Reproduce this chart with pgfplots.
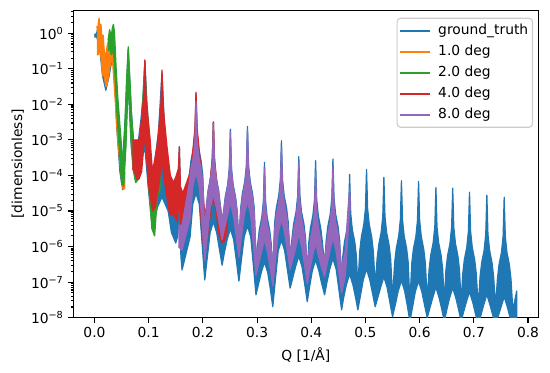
\documentclass[border=0pt]{standalone}
\usepackage{fontspec}
\setmainfont{DejaVu Sans}
\usepackage{pgfplots}
\pgfplotsset{compat=1.18}
\definecolor{tabblue}{HTML}{1F77B4}
\definecolor{taborange}{HTML}{FF7F0E}
\definecolor{tabgreen}{HTML}{2CA02C}
\definecolor{tabred}{HTML}{D62728}
\definecolor{tabpurple}{HTML}{9467BD}
\begin{document}
\fontsize{10}{12}\selectfont
\begin{tikzpicture}
\useasboundingbox (-52.8bp,-39.1bp) rectangle (343.2bp,228.74bp);
\begin{axis}[
  at={(0,0)}, anchor=south west,
  scale only axis, width=334.8bp, height=221.5bp,
  ymode=log, xmin=-0.039, xmax=0.819, ymin=1e-8, ymax=4.5,
  xtick={0,0.1,0.2,0.3,0.4,0.5,0.6,0.7,0.8},
  xticklabels={0.0,0.1,0.2,0.3,0.4,0.5,0.6,0.7,0.8},
  ytick={1e-8,1e-7,1e-6,1e-5,1e-4,1e-3,1e-2,1e-1,1},
  yticklabels={10\textsuperscript{−8},10\textsuperscript{−7},10\textsuperscript{−6},10\textsuperscript{−5},10\textsuperscript{−4},10\textsuperscript{−3},10\textsuperscript{−2},10\textsuperscript{−1},10\textsuperscript{0}},
  minor ytick={2e-8,3e-8,4e-8,5e-8,6e-8,7e-8,8e-8,9e-8,
    2e-7,3e-7,4e-7,5e-7,6e-7,7e-7,8e-7,9e-7,
    2e-6,3e-6,4e-6,5e-6,6e-6,7e-6,8e-6,9e-6,
    2e-5,3e-5,4e-5,5e-5,6e-5,7e-5,8e-5,9e-5,
    2e-4,3e-4,4e-4,5e-4,6e-4,7e-4,8e-4,9e-4,
    2e-3,3e-3,4e-3,5e-3,6e-3,7e-3,8e-3,9e-3,
    2e-2,3e-2,4e-2,5e-2,6e-2,7e-2,8e-2,9e-2,
    0.2,0.3,0.4,0.5,0.6,0.7,0.8,0.9,2,3,4},
  xminorticks=false,
  tick align=outside, xtick pos=bottom, ytick pos=left,
  major tick length=3.5bp, minor tick length=2bp,
  tick style={line width=0.8bp, black},
  axis line style={line width=0.8bp},
  tick label style={font=\fontsize{10}{12}\selectfont},
  xlabel={Q [1/Å]}, ylabel={[dimensionless]},
  every axis x label/.style={at={(axis description cs:0.5,-0.1219)}, anchor=center, font=\fontsize{10}{12}\selectfont},
  every axis y label/.style={at={(axis description cs:-0.1195,0.5)}, rotate=90, anchor=center, font=\fontsize{10}{12}\selectfont},
  legend style={at={(1,1)}, anchor=north east, xshift=-3.8bp, yshift=-5.5bp,
    draw=black!20, line width=0.8bp, rounded corners=2.5bp, fill=white, fill opacity=0.8, text opacity=1,
    font=\fontsize{10}{12}\selectfont, row sep=0pt, column sep=3.4bp, inner xsep=1.1bp, inner ysep=1.5bp,
    nodes={inner ysep=2.55bp, inner xsep=2bp, text height=7.5bp, text depth=2.5bp}},
  legend cell align=left,
  legend image code/.code={\draw[#1, line width=1.5bp] (0bp,0bp) -- (21.6bp,0bp);},
]
% ground truth: band (upper envelope left to right, lower envelope right to left)
\addplot[forget plot, fill=tabblue, draw=tabblue, line width=0.9bp, line join=round] coordinates {
(0.000,0.89)(0.004,1.0)(0.0087,2.0)(0.015,0.32)(0.021,6.3e-2)(0.027,0.25)(0.035,1.41)(0.041,2.5e-2)(0.047,1e-3)(0.052,2.5e-4)(0.057,5e-3)(0.0623,0.355)(0.068,6.3e-3)(0.073,6.3e-4)(0.078,4.0e-4)(0.086,4.0e-3)(0.090,2.0e-2)(0.093,0.158)(0.097,1.0e-2)(0.101,1.26e-3)(0.107,2.5e-5)(0.112,3.16e-4)(0.118,1.58e-3)(0.1246,7.9e-2)(0.130,1.26e-3)(0.136,1.58e-4)(0.142,2.5e-5)(0.1486,1.26e-5)(0.1536,4.0e-5)(0.1566,6.3e-4)(0.1596,1e-5)(0.1616,2.5e-6)
(0.1749,1e-4)(0.1779,2.5e-4)(0.1824,5.6e-4)(0.1854,1.58e-3)(0.1874,2.0e-2)(0.1894,1.58e-3)(0.1924,5.6e-4)(0.1969,2.5e-4)(0.1999,1e-4)(0.2035,1.26e-6)
(0.2069,1.58e-5)(0.2099,4.0e-5)(0.2144,8.9e-5)(0.2174,2.5e-4)(0.2194,3.16e-3)(0.2214,2.5e-4)(0.2244,8.9e-5)(0.2289,4.0e-5)(0.2319,1.58e-5)(0.2355,3.55e-6)
(0.2383,1e-5)(0.2413,2.5e-5)(0.2458,5.6e-5)(0.2488,1.58e-4)(0.2508,2.0e-3)(0.2528,1.58e-4)(0.2558,5.6e-5)(0.2603,2.5e-5)(0.2633,1e-5)(0.2665,1.26e-6)
(0.2698,1.2e-5)(0.2728,3.0e-5)(0.2773,6.8e-5)(0.2803,1.9e-4)(0.2823,2.4e-3)(0.2843,1.9e-4)(0.2873,6.8e-5)(0.2918,3.0e-5)(0.2948,1.2e-5)(0.298,4.0e-7)
(0.3012,1.17e-6)(0.3042,2.95e-6)(0.3087,6.6e-6)(0.3117,1.86e-5)(0.3137,2.34e-4)(0.3157,1.86e-5)(0.3187,6.6e-6)(0.3232,2.95e-6)(0.3262,1.17e-6)(0.329,1.58e-7)
(0.3325,4.8e-6)(0.3355,1.2e-5)(0.340,2.7e-5)(0.343,7.6e-5)(0.345,9.5e-4)(0.347,7.6e-5)(0.350,2.7e-5)(0.3545,1.2e-5)(0.3575,4.8e-6)(0.361,4.5e-7)
(0.3645,1.7e-6)(0.3675,4.3e-6)(0.372,9.5e-6)(0.375,2.7e-5)(0.377,3.4e-4)(0.379,2.7e-5)(0.382,9.5e-6)(0.3865,4.3e-6)(0.3895,1.7e-6)(0.3926,1.78e-7)
(0.3955,1.32e-6)(0.3985,3.3e-6)(0.403,7.4e-6)(0.406,2.1e-5)(0.408,2.63e-4)(0.410,2.1e-5)(0.413,7.4e-6)(0.4175,3.3e-6)(0.4205,1.32e-6)(0.4246,2.8e-7)
(0.4275,1.45e-6)(0.4305,3.6e-6)(0.435,8.1e-6)(0.438,2.3e-5)(0.44,2.9e-4)(0.442,2.3e-5)(0.445,8.1e-6)(0.4495,3.6e-6)(0.4525,1.45e-6)(0.456,7.9e-8)
(0.4583,5.4e-7)(0.4613,1.35e-6)(0.4658,3.0e-6)(0.4688,8.5e-6)(0.4708,1.07e-4)(0.4728,8.5e-6)(0.4758,3.0e-6)(0.4803,1.35e-6)(0.4833,5.4e-7)(0.486,7.1e-8)
(0.4895,7.4e-7)(0.4925,1.86e-6)(0.497,4.2e-6)(0.500,1.17e-5)(0.502,1.48e-4)(0.504,1.17e-5)(0.507,4.2e-6)(0.5115,1.86e-6)(0.5145,7.4e-7)(0.518,7.9e-8)
(0.5215,4.5e-7)(0.5245,1.12e-6)(0.529,2.5e-6)(0.532,7.1e-6)(0.534,8.9e-5)(0.536,7.1e-6)(0.539,2.5e-6)(0.5435,1.12e-6)(0.5465,4.5e-7)(0.550,3.55e-8)
(0.5539,3.55e-7)(0.5569,8.9e-7)(0.5614,2.0e-6)(0.5644,5.6e-6)(0.5664,7.1e-5)(0.5684,5.6e-6)(0.5714,2.0e-6)(0.5759,8.9e-7)(0.5789,3.55e-7)(0.582,2.5e-8)
(0.5855,3.4e-7)(0.5885,8.5e-7)(0.593,1.9e-6)(0.596,5.4e-6)(0.598,6.8e-5)(0.600,5.4e-6)(0.603,1.9e-6)(0.6075,8.5e-7)(0.6105,3.4e-7)(0.614,3.16e-8)
(0.6175,2.3e-7)(0.6205,5.75e-7)(0.625,1.29e-6)(0.628,3.6e-6)(0.63,4.6e-5)(0.632,3.6e-6)(0.635,1.29e-6)(0.6395,5.75e-7)(0.6425,2.3e-7)(0.6455,2.5e-8)
(0.6485,2.2e-7)(0.6515,5.5e-7)(0.656,1.23e-6)(0.659,3.5e-6)(0.661,4.4e-5)(0.663,3.5e-6)(0.666,1.23e-6)(0.6705,5.5e-7)(0.6735,2.2e-7)(0.6765,2.5e-8)
(0.6795,1.7e-7)(0.6825,4.3e-7)(0.687,9.5e-7)(0.690,2.7e-6)(0.692,3.4e-5)(0.694,2.7e-6)(0.697,9.5e-7)(0.7015,4.3e-7)(0.7045,1.7e-7)(0.708,2.0e-8)
(0.7115,1.41e-7)(0.7145,3.55e-7)(0.719,7.9e-7)(0.722,2.24e-6)(0.724,2.8e-5)(0.726,2.24e-6)(0.729,7.9e-7)(0.7335,3.55e-7)(0.7365,1.41e-7)(0.740,2.0e-8)
(0.7435,1.23e-7)(0.7465,3.1e-7)(0.751,6.9e-7)(0.754,1.95e-6)(0.756,2.45e-5)(0.758,1.95e-6)(0.761,6.9e-7)(0.7655,3.1e-7)(0.7685,1.23e-7)(0.772,1.58e-8)(0.779,5.6e-8)
(0.779,1e-8)(0.772,5e-9)
(0.767,1e-8)(0.762,1.95e-8)(0.756,3.9e-8)(0.750,1.95e-8)(0.745,1.1e-8)(0.740,6.3e-9)
(0.735,1.17e-8)(0.730,2.24e-8)(0.724,4.5e-8)(0.718,2.24e-8)(0.713,1.17e-8)(0.708,6.3e-9)
(0.703,1.3e-8)(0.698,2.7e-8)(0.692,5.4e-8)(0.686,2.7e-8)(0.681,1.45e-8)(0.6765,7.9e-9)
(0.672,1.66e-8)(0.667,3.5e-8)(0.661,6.9e-8)(0.655,3.5e-8)(0.650,1.66e-8)(0.6455,7.9e-9)
(0.641,1.7e-8)(0.636,3.6e-8)(0.63,7.2e-8)(0.624,3.6e-8)(0.619,1.9e-8)(0.614,1e-8)
(0.609,2.3e-8)(0.604,5.4e-8)(0.598,1.07e-7)(0.592,5.4e-8)(0.587,2.04e-8)(0.582,7.9e-9)
(0.5774,2.1e-8)(0.5724,5.6e-8)(0.5664,1.12e-7)(0.5604,5.6e-8)(0.5554,2.45e-8)(0.550,1.07e-8)
(0.545,2.75e-8)(0.540,7.1e-8)(0.534,1.41e-7)(0.528,7.1e-8)(0.523,3.8e-8)(0.518,2.04e-8)
(0.513,4.9e-8)(0.508,1.17e-7)(0.502,2.34e-7)(0.496,1.17e-7)(0.491,4.4e-8)(0.486,1.66e-8)
(0.4818,3.7e-8)(0.4768,8.5e-8)(0.4708,1.7e-7)(0.4648,8.5e-8)(0.4598,3.7e-8)(0.456,1.66e-8)
(0.451,6.2e-8)(0.446,2.3e-7)(0.44,4.6e-7)(0.434,2.3e-7)(0.429,1e-7)(0.4246,4.4e-8)
(0.419,9.5e-8)(0.414,2.1e-7)(0.408,4.2e-7)(0.402,2.1e-7)(0.397,7.6e-8)(0.3926,2.8e-8)
(0.388,8.7e-8)(0.383,2.7e-7)(0.377,5.4e-7)(0.371,2.7e-7)(0.366,1.35e-7)(0.361,6.8e-8)
(0.356,2.24e-7)(0.351,7.6e-7)(0.345,1.51e-6)(0.339,7.6e-7)(0.334,1.26e-7)(0.329,2.04e-8)
(0.3247,6.2e-8)(0.3197,1.86e-7)(0.3137,3.7e-7)(0.3077,1.86e-7)(0.3027,8.9e-8)(0.298,4.4e-8)
(0.2933,2.9e-7)(0.2883,1.9e-6)(0.2823,3.8e-6)(0.2763,1.9e-6)(0.2713,4.5e-7)(0.2665,1.07e-7)
(0.2618,4.1e-7)(0.2568,1.58e-6)(0.2508,3.16e-6)(0.2448,1.58e-6)(0.2398,6.9e-7)(0.2355,3.0e-7)
(0.2304,8.7e-7)(0.2254,2.5e-6)(0.2194,5.0e-6)(0.2134,2.5e-6)(0.2084,5.4e-7)(0.2035,1.15e-7)
(0.1984,1.35e-6)(0.1934,1.58e-5)(0.1874,3.16e-5)(0.1814,1.58e-5)(0.1764,1.86e-6)(0.1616,2.2e-7)
(0.1596,5.0e-7)(0.1566,1e-5)(0.1536,2.0e-6)(0.150,1.26e-6)(0.142,2.5e-6)(0.136,1e-5)(0.1246,2.5e-5)(0.116,1.26e-5)(0.107,3.16e-6)(0.099,5.0e-5)(0.093,6.3e-4)(0.086,2.5e-4)(0.078,7.1e-5)(0.073,1.26e-4)(0.068,6.3e-4)(0.0623,5.0e-2)(0.057,5.0e-4)(0.052,4.0e-5)(0.047,1.26e-4)(0.041,2.5e-3)(0.035,0.316)(0.027,6.3e-2)(0.021,2.5e-2)(0.015,6.3e-2)(0.0087,0.5)(0.004,0.79)(0.000,0.79)
};
% 1.0 deg
\addplot[forget plot, fill=taborange, draw=taborange, line width=0.9bp, line join=round] coordinates {
(0.0044,1.58)(0.0060,1.12)(0.0075,2.24)(0.0087,2.63)(0.010,1.26)(0.012,1.78)(0.014,0.63)(0.016,0.89)(0.018,0.32)(0.020,0.2)(0.022,0.32)(0.024,0.5)(0.026,0.63)(0.029,0.79)(0.033,1.0)(0.037,0.126)(0.041,1e-2)(0.045,3.16e-3)(0.049,5e-4)(0.053,1.58e-4)(0.056,1.26e-4)
(0.056,4.5e-5)(0.053,4.0e-5)(0.050,7.9e-5)(0.046,3.16e-4)(0.042,1.58e-3)(0.038,1.58e-2)(0.033,0.2)(0.029,0.126)(0.026,6.3e-2)(0.023,3.55e-2)(0.021,3.16e-2)(0.019,5e-2)(0.017,7.9e-2)(0.015,6.3e-2)(0.013,0.158)(0.011,0.28)(0.0087,0.5)(0.007,0.25)(0.0044,0.25)
};
% 2.0 deg
\addplot[forget plot, fill=tabgreen, draw=tabgreen, line width=0.9bp, line join=round] coordinates {
(0.025,0.63)(0.028,1.26)(0.031,0.79)(0.033,1.41)(0.035,1.78)(0.037,1.0)(0.040,0.1)(0.043,1.58e-2)(0.046,4.0e-3)(0.050,6.3e-4)(0.053,2.0e-4)(0.056,2.0e-3)(0.059,4.0e-2)(0.0623,0.42)(0.065,6.3e-2)(0.068,6.3e-3)(0.072,7.9e-4)(0.077,5.0e-4)(0.082,6.3e-4)(0.087,3.16e-3)(0.093,0.158)(0.097,3.16e-3)(0.102,1.58e-4)(0.107,2.5e-5)(0.112,6.3e-5)(0.117,2.5e-4)(0.121,1.58e-4)
(0.121,4.0e-5)(0.116,2.5e-5)(0.111,2.0e-6)(0.106,3.16e-6)(0.100,5.0e-5)(0.093,6.3e-3)(0.087,3.16e-4)(0.081,7.9e-5)(0.076,6.3e-5)(0.071,1.58e-4)(0.067,1.26e-3)(0.0623,5.0e-2)(0.058,6.3e-4)(0.054,5.0e-5)(0.050,6.3e-5)(0.046,5.0e-4)(0.042,4.0e-3)(0.038,6.3e-2)(0.035,0.32)(0.031,0.25)(0.028,0.4)(0.025,0.32)
};
% 4.0 deg
\addplot[forget plot, fill=tabred, draw=tabred, line width=0.9bp, line join=round] coordinates {
(0.070,1e-3)(0.075,1e-3)(0.080,1e-3)(0.0835,1.12e-3)(0.088,5.6e-3)(0.091,1.78e-2)(0.093,0.178)(0.095,1.78e-2)(0.098,5.6e-3)(0.1025,1.12e-3)(0.107,1.26e-4)(0.1151,5.9e-4)(0.1196,2.95e-3)(0.1226,9.3e-3)(0.1246,9.3e-2)(0.1266,9.3e-3)(0.1296,2.95e-3)(0.1341,5.9e-4)(0.140,1e-4)(0.146,6.3e-5)(0.151,1e-4)(0.155,1.58e-4)(0.1566,6.5e-4)(0.1585,5.0e-5)(0.163,3.16e-5)(0.170,6.3e-5)(0.1779,1.38e-4)(0.1824,6.9e-4)(0.1854,2.2e-3)(0.1874,2.2e-2)(0.1894,2.2e-3)(0.1924,6.9e-4)(0.1969,1.38e-4)(0.2035,7.9e-6)(0.2099,2.04e-5)(0.2144,1.02e-4)(0.2174,3.2e-4)(0.2194,3.2e-3)(0.2214,3.2e-4)(0.2244,1.02e-4)(0.2289,2.04e-5)(0.2355,6.3e-6)(0.241,1.26e-5)(0.245,2.0e-5)
(0.245,3.16e-6)(0.241,1.58e-6)(0.2355,1.26e-6)(0.229,2.5e-6)(0.2254,7.9e-6)(0.2194,3.16e-5)(0.2134,7.9e-6)(0.208,1.58e-6)(0.2035,6.3e-7)(0.198,2.5e-6)(0.1934,5.0e-5)(0.1874,2.0e-4)(0.1814,5.0e-5)(0.175,1e-5)(0.167,2.0e-6)(0.161,1.58e-6)(0.1566,3.16e-5)(0.153,5.0e-6)(0.146,7.9e-6)(0.139,7.9e-6)(0.1306,5.0e-5)(0.1246,2.5e-4)(0.1186,5.0e-5)(0.112,1.26e-5)(0.107,1e-5)(0.100,5.0e-5)(0.093,1.58e-3)(0.087,1.26e-4)(0.082,7.9e-5)(0.078,7.9e-5)(0.074,1.26e-4)(0.070,1.58e-4)
};
% 8.0 deg
\addplot[forget plot, fill=tabpurple, draw=tabpurple, line width=0.9bp, line join=round] coordinates {
(0.155,4.0e-6)(0.1616,4.0e-6)
(0.1749,6.0e-5)(0.1779,1.51e-4)(0.1824,3.4e-4)(0.1854,9.5e-4)(0.1874,1.2e-2)(0.1894,9.5e-4)(0.1924,3.4e-4)(0.1969,1.51e-4)(0.1999,6.0e-5)(0.2035,2.5e-6)
(0.2069,1.48e-5)(0.2099,3.7e-5)(0.2144,8.3e-5)(0.2174,2.34e-4)(0.2194,2.95e-3)(0.2214,2.34e-4)(0.2244,8.3e-5)(0.2289,3.7e-5)(0.2319,1.48e-5)(0.2355,7.1e-6)
(0.2383,8.5e-6)(0.2413,2.14e-5)(0.2458,4.8e-5)(0.2488,1.35e-4)(0.2508,1.7e-3)(0.2528,1.35e-4)(0.2558,4.8e-5)(0.2603,2.14e-5)(0.2633,8.5e-6)(0.2665,1.78e-6)
(0.2698,9.5e-6)(0.2728,2.4e-5)(0.2773,5.4e-5)(0.2803,1.51e-4)(0.2823,1.9e-3)(0.2843,1.51e-4)(0.2873,5.4e-5)(0.2918,2.4e-5)(0.2948,9.5e-6)(0.298,6.3e-7)
(0.3012,8.1e-7)(0.3042,2.04e-6)(0.3087,4.6e-6)(0.3117,1.29e-5)(0.3137,1.62e-4)(0.3157,1.29e-5)(0.3187,4.6e-6)(0.3232,2.04e-6)(0.3262,8.1e-7)(0.329,2.8e-7)
(0.3325,3.0e-6)(0.3355,7.6e-6)(0.340,1.7e-5)(0.343,4.8e-5)(0.345,6.0e-4)(0.347,4.8e-5)(0.350,1.7e-5)(0.3545,7.6e-6)(0.3575,3.0e-6)(0.361,7.9e-7)
(0.3645,1.12e-6)(0.3675,2.8e-6)(0.372,6.3e-6)(0.375,1.78e-5)(0.377,2.24e-4)(0.379,1.78e-5)(0.382,6.3e-6)(0.3865,2.8e-6)(0.3895,1.12e-6)(0.3926,3.16e-7)
(0.3955,6.3e-7)(0.3985,1.58e-6)(0.403,3.55e-6)(0.406,1e-5)(0.408,1.26e-4)(0.410,1e-5)(0.413,3.55e-6)(0.4175,1.58e-6)(0.4205,6.3e-7)(0.4246,5.0e-7)
(0.4275,8.9e-7)(0.4305,2.24e-6)(0.435,5.0e-6)(0.438,1.41e-5)(0.44,1.78e-4)(0.442,1.41e-5)(0.445,5.0e-6)(0.4495,2.24e-6)(0.4525,8.9e-7)(0.456,2.5e-7)
(0.463,7.9e-7)(0.468,1.26e-5)(0.4708,4.0e-5)(0.4715,2.5e-5)
(0.4715,1e-5)(0.4708,1.26e-5)(0.468,2.5e-6)(0.463,1.58e-7)(0.456,5.0e-8)
(0.451,1.86e-7)(0.446,7.1e-7)(0.44,1.78e-6)(0.434,7.1e-7)(0.429,3.16e-7)(0.4246,1.41e-7)
(0.419,2.6e-7)(0.414,5.0e-7)(0.408,1.26e-6)(0.402,5.0e-7)(0.397,2.1e-7)(0.3926,8.9e-8)
(0.388,2.8e-7)(0.383,8.9e-7)(0.377,2.24e-6)(0.371,8.9e-7)(0.366,4.5e-7)(0.361,2.24e-7)
(0.356,7.2e-7)(0.351,2.4e-6)(0.345,6.0e-6)(0.339,2.4e-6)(0.334,4.4e-7)(0.329,7.9e-8)
(0.3247,2.24e-7)(0.3197,6.5e-7)(0.3137,1.62e-6)(0.3077,6.5e-7)(0.3027,3.16e-7)(0.298,1.58e-7)
(0.2933,1.1e-6)(0.2883,7.6e-6)(0.2823,1.9e-5)(0.2763,7.6e-6)(0.2713,1.95e-6)(0.2665,5.0e-7)
(0.2618,1.82e-6)(0.2568,6.8e-6)(0.2508,1.7e-5)(0.2448,6.8e-6)(0.2398,3.2e-6)(0.2355,1.58e-6)
(0.2304,4.3e-6)(0.2254,1.17e-5)(0.2194,2.95e-5)(0.2134,1.17e-5)(0.2084,2.14e-6)(0.2035,4.0e-7)
(0.1984,4.4e-6)(0.1934,4.8e-5)(0.1874,1.2e-4)(0.1814,4.8e-5)(0.1764,6.2e-6)(0.1616,7.9e-7)(0.155,1e-6)
};
\addlegendimage{draw=tabblue}\addlegendentry{ground\_truth}
\addlegendimage{draw=taborange}\addlegendentry{1.0 deg}
\addlegendimage{draw=tabgreen}\addlegendentry{2.0 deg}
\addlegendimage{draw=tabred}\addlegendentry{4.0 deg}
\addlegendimage{draw=tabpurple}\addlegendentry{8.0 deg}
\end{axis}
\end{tikzpicture}
\end{document}
